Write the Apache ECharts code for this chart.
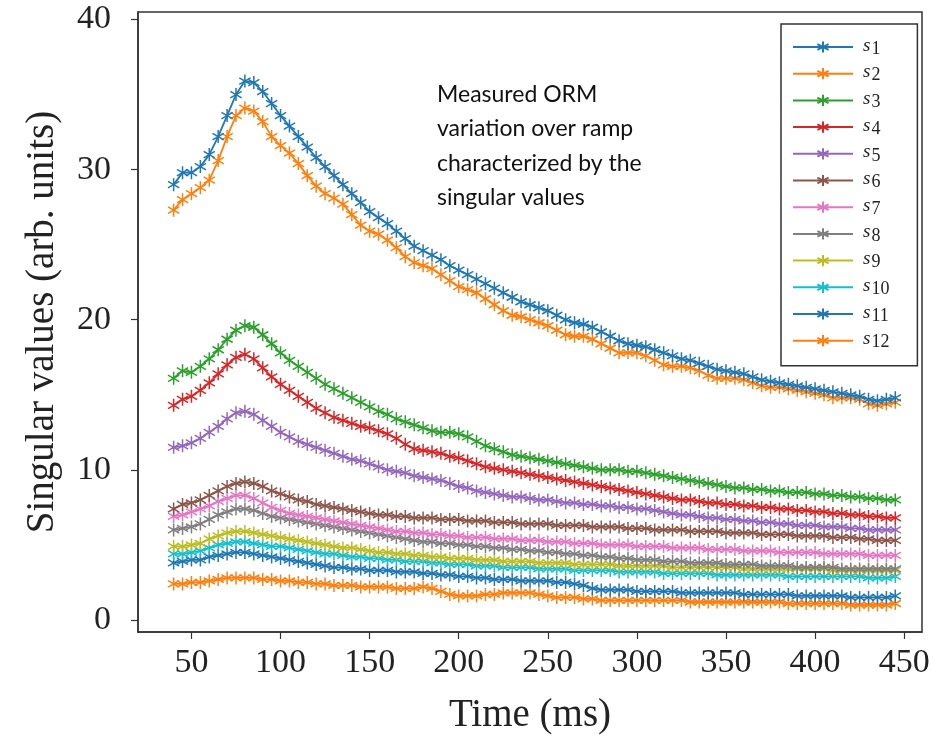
<!DOCTYPE html>
<html>
<head>
<meta charset="utf-8">
<script src="https://cdn.jsdelivr.net/npm/echarts@6/dist/echarts.min.js"></script>
<style>html,body{margin:0;padding:0;background:#fff;}#chart{width:933px;height:741px;}</style>
</head>
<body>
<div id="chart"></div>
<script>
// ---- data ----
const timeMs = [40,45,50,55,60,65,70,75,80,85,90,95,100,105,110,115,120,125,130,135,140,145,150,155,160,165,170,175,180,185,190,195,200,205,210,215,220,225,230,235,240,245,250,255,260,265,270,275,280,285,290,295,300,305,310,315,320,325,330,335,340,345,350,355,360,365,370,375,380,385,390,395,400,405,410,415,420,425,430,435,440,445];

const s1 = [29.0,29.8,29.8,30.2,31.0,32.2,33.6,35.0,35.9,35.8,35.2,34.4,33.6,32.9,32.2,31.5,30.8,30.2,29.6,29.0,28.4,27.8,27.2,26.8,26.4,25.9,25.4,24.9,24.6,24.3,24.0,23.6,23.3,23.0,22.7,22.4,22.1,21.8,21.5,21.2,21.0,20.8,20.6,20.3,20.0,19.8,19.7,19.5,19.2,18.9,18.6,18.4,18.3,18.2,18.0,17.8,17.6,17.4,17.3,17.1,16.9,16.7,16.6,16.5,16.4,16.2,16.0,15.9,15.8,15.7,15.6,15.5,15.4,15.3,15.2,15.1,15.0,14.9,14.7,14.6,14.7,14.8];
const s2 = [27.3,28.0,28.4,28.8,29.3,30.6,32.2,33.6,34.1,33.9,33.2,32.2,31.6,31.1,30.4,29.6,28.9,28.4,28.1,27.7,27.0,26.3,25.9,25.7,25.3,24.8,24.2,23.8,23.6,23.4,23.0,22.6,22.2,22.0,21.8,21.4,21.0,20.6,20.3,20.2,20.0,19.8,19.6,19.3,19.0,18.9,18.9,18.7,18.4,18.1,17.8,17.8,17.8,17.6,17.3,17.0,16.9,16.9,16.8,16.6,16.3,16.1,16.1,16.1,16.0,15.8,15.6,15.5,15.5,15.4,15.3,15.2,15.1,15.0,14.8,14.8,14.8,14.7,14.4,14.3,14.4,14.5];
const s3 = [16.1,16.6,16.5,16.9,17.4,18.0,18.7,19.3,19.6,19.5,19.0,18.4,17.8,17.3,16.9,16.5,16.1,15.7,15.4,15.1,14.8,14.5,14.2,13.9,13.7,13.4,13.2,13.0,12.8,12.6,12.5,12.5,12.4,12.2,11.9,11.6,11.4,11.2,11.0,10.9,10.8,10.7,10.6,10.5,10.4,10.3,10.2,10.1,10.0,10.0,10.0,9.9,9.9,9.8,9.7,9.6,9.5,9.4,9.3,9.2,9.1,9.0,8.9,8.8,8.8,8.7,8.7,8.6,8.6,8.5,8.5,8.5,8.4,8.4,8.3,8.3,8.2,8.2,8.1,8.1,8.0,8.0];
const s4 = [14.3,14.7,14.9,15.3,15.8,16.4,17.0,17.5,17.7,17.4,16.8,16.2,15.7,15.3,14.9,14.5,14.1,13.8,13.5,13.3,13.1,12.9,12.8,12.6,12.4,12.1,11.7,11.4,11.3,11.2,11.1,10.9,10.8,10.6,10.4,10.2,10.1,10.0,9.9,9.8,9.7,9.6,9.5,9.4,9.3,9.2,9.1,9.0,8.9,8.8,8.7,8.6,8.5,8.4,8.3,8.2,8.1,8.0,8.0,7.9,7.8,7.8,7.7,7.7,7.6,7.6,7.5,7.5,7.4,7.4,7.3,7.3,7.2,7.2,7.1,7.1,7.0,7.0,6.9,6.9,6.8,6.8];
const s5 = [11.5,11.6,11.8,12.1,12.5,12.9,13.4,13.8,13.9,13.7,13.3,12.9,12.5,12.2,11.9,11.7,11.5,11.3,11.1,10.9,10.7,10.6,10.4,10.2,10.0,9.9,9.8,9.6,9.5,9.4,9.3,9.1,8.9,8.8,8.6,8.5,8.4,8.3,8.2,8.2,8.1,8.0,8.0,7.9,7.8,7.8,7.7,7.7,7.6,7.6,7.5,7.5,7.4,7.4,7.3,7.2,7.1,7.0,7.0,6.9,6.8,6.8,6.7,6.7,6.6,6.6,6.5,6.5,6.4,6.4,6.3,6.3,6.3,6.2,6.2,6.2,6.1,6.1,6.0,6.0,6.0,6.0];
const s6 = [7.4,7.7,7.8,8.0,8.3,8.6,8.9,9.1,9.2,9.1,8.9,8.6,8.4,8.2,8.0,7.9,7.7,7.6,7.5,7.4,7.3,7.2,7.1,7.0,7.0,6.9,6.9,6.8,6.8,6.8,6.7,6.7,6.7,6.6,6.6,6.6,6.5,6.5,6.5,6.4,6.4,6.4,6.4,6.3,6.3,6.3,6.3,6.2,6.2,6.2,6.2,6.1,6.1,6.1,6.0,6.0,6.0,6.0,5.9,5.9,5.9,5.9,5.8,5.8,5.8,5.8,5.7,5.7,5.7,5.7,5.6,5.6,5.6,5.6,5.5,5.5,5.5,5.4,5.4,5.3,5.3,5.3];
const s7 = [6.9,7.0,7.2,7.4,7.6,7.9,8.1,8.3,8.3,8.1,7.8,7.5,7.3,7.1,7.0,6.9,6.8,6.7,6.6,6.5,6.4,6.3,6.2,6.1,6.0,5.9,5.9,5.8,5.8,5.7,5.7,5.6,5.6,5.5,5.5,5.5,5.4,5.4,5.4,5.3,5.3,5.3,5.2,5.2,5.2,5.1,5.1,5.1,5.0,5.0,5.0,5.0,4.9,4.9,4.9,4.9,4.8,4.8,4.8,4.8,4.7,4.7,4.7,4.7,4.6,4.6,4.6,4.6,4.5,4.5,4.5,4.5,4.5,4.4,4.4,4.4,4.4,4.4,4.3,4.3,4.3,4.3];
const s8 = [6.0,6.1,6.2,6.4,6.7,7.0,7.2,7.4,7.4,7.3,7.1,6.9,6.8,6.7,6.6,6.5,6.4,6.3,6.2,6.1,6.0,5.9,5.8,5.7,5.6,5.5,5.4,5.3,5.2,5.2,5.1,5.1,5.0,5.0,4.9,4.9,4.8,4.8,4.7,4.7,4.6,4.6,4.5,4.5,4.4,4.4,4.3,4.3,4.2,4.2,4.1,4.1,4.0,4.0,4.0,3.9,3.9,3.9,3.8,3.8,3.8,3.8,3.7,3.7,3.7,3.7,3.6,3.6,3.6,3.6,3.5,3.5,3.5,3.5,3.5,3.4,3.4,3.4,3.4,3.4,3.4,3.4];
const s9 = [4.9,4.9,5.0,5.1,5.4,5.6,5.8,5.9,5.9,5.8,5.7,5.6,5.5,5.4,5.3,5.2,5.1,5.0,4.9,4.8,4.8,4.7,4.6,4.5,4.5,4.4,4.4,4.3,4.3,4.2,4.2,4.1,4.1,4.1,4.0,4.0,4.0,3.9,3.9,3.9,3.9,3.8,3.8,3.8,3.8,3.7,3.7,3.7,3.7,3.7,3.6,3.6,3.6,3.6,3.6,3.6,3.5,3.5,3.5,3.5,3.5,3.5,3.5,3.5,3.4,3.4,3.4,3.4,3.4,3.4,3.4,3.4,3.4,3.4,3.3,3.3,3.3,3.3,3.3,3.3,3.3,3.3];
const s10 = [4.4,4.4,4.5,4.6,4.8,5.0,5.1,5.2,5.2,5.1,5.0,4.9,4.9,4.8,4.7,4.6,4.5,4.4,4.4,4.3,4.2,4.2,4.1,4.1,4.0,4.0,3.9,3.9,3.9,3.8,3.8,3.7,3.7,3.7,3.6,3.6,3.6,3.5,3.5,3.5,3.5,3.4,3.4,3.4,3.4,3.3,3.3,3.3,3.3,3.3,3.2,3.2,3.2,3.2,3.2,3.1,3.1,3.1,3.1,3.1,3.1,3.0,3.0,3.0,3.0,3.0,3.0,3.0,3.0,2.9,2.9,2.9,2.9,2.9,2.9,2.9,2.9,2.9,2.8,2.8,2.8,2.9];
const s11 = [3.8,3.9,4.0,4.0,4.2,4.3,4.4,4.5,4.5,4.4,4.3,4.2,4.1,4.0,3.9,3.8,3.7,3.6,3.5,3.5,3.4,3.4,3.3,3.3,3.3,3.2,3.2,3.2,3.1,3.1,3.0,3.0,2.9,2.9,2.8,2.8,2.7,2.7,2.7,2.6,2.6,2.6,2.6,2.5,2.5,2.4,2.3,2.1,2.0,2.0,2.0,2.0,1.9,1.9,1.9,1.9,1.9,1.8,1.8,1.8,1.8,1.8,1.8,1.8,1.7,1.7,1.7,1.7,1.7,1.7,1.6,1.6,1.6,1.6,1.6,1.6,1.5,1.5,1.5,1.5,1.5,1.6];
const s12 = [2.4,2.4,2.5,2.5,2.6,2.7,2.8,2.8,2.8,2.8,2.7,2.7,2.6,2.6,2.5,2.5,2.4,2.4,2.3,2.3,2.3,2.2,2.2,2.2,2.2,2.1,2.1,2.1,2.2,2.1,1.9,1.7,1.6,1.6,1.6,1.7,1.7,1.8,1.8,1.8,1.8,1.7,1.6,1.5,1.5,1.5,1.4,1.4,1.3,1.3,1.3,1.3,1.3,1.3,1.3,1.3,1.3,1.3,1.2,1.2,1.2,1.2,1.2,1.2,1.2,1.2,1.2,1.2,1.2,1.1,1.1,1.1,1.1,1.1,1.1,1.1,1.0,1.0,1.0,1.0,1.0,1.1];

const seriesNames = ['s1','s2','s3','s4','s5','s6','s7','s8','s9','s10','s11','s12'];
const seriesValues = [s1,s2,s3,s4,s5,s6,s7,s8,s9,s10,s11,s12];
const xTicks = [50,100,150,200,250,300,350,400,450];
const yTicks = [0,10,20,30,40];
const annotationLines = ['Measured ORM','variation over ramp','characterized by the','singular values'];

// ---- styling ----
const colors = ['#1f77b4','#ff7f0e','#2ca02c','#d62728','#9467bd','#8c564b','#e377c2','#7f7f7f','#bcbd22','#17becf','#1f77b4','#ff7f0e'];
const asterisk = 'path://M5,0L5,10M0.67,2.5L9.33,7.5M0.67,7.5L9.33,2.5';
const serif = 'Liberation Serif';

const chart = echarts.init(document.getElementById('chart'), null, {renderer: 'canvas'});

const series = seriesNames.map((name, k) => ({
  name: name,
  type: 'line',
  data: timeMs.map((t, i) => [t, seriesValues[k][i]]),
  symbol: asterisk,
  symbolSize: 13,
  symbolKeepAspect: true,
  showAllSymbol: true,
  lineStyle: {color: colors[k], width: 1.8},
  itemStyle: {color: colors[k], borderColor: colors[k], borderWidth: 1.5},
  emphasis: {disabled: true},
  z: 2 + (12 - k) * 0.01
}));

const option = {
  animation: false,
  backgroundColor: '#ffffff',
  grid: {left: 138, top: 12, right: 11, bottom: 109, show: true, borderColor: '#333', borderWidth: 1.5, backgroundColor: 'transparent'},
  xAxis: {
    type: 'value', min: 20, max: 460,
    name: 'Time (ms)', nameLocation: 'middle', nameGap: 64,
    nameTextStyle: {fontFamily: serif, fontSize: 39, color: '#222'},
    axisLine: {show: true, onZero: false, lineStyle: {color: '#333', width: 1.5}},
    axisTick: {show: true, length: 7, customValues: xTicks, lineStyle: {color: '#333', width: 1.2}},
    axisLabel: {customValues: xTicks, fontFamily: serif, fontSize: 34, color: '#222', margin: 14},
    splitLine: {show: false}
  },
  yAxis: {
    type: 'value', min: -0.8, max: 40.5,
    name: 'Singular values (arb. units)', nameLocation: 'middle', nameGap: 76,
    nameTextStyle: {fontFamily: serif, fontSize: 39, color: '#222'},
    axisLine: {show: true, onZero: false, lineStyle: {color: '#333', width: 1.5}},
    axisTick: {show: true, length: 7, customValues: yTicks, lineStyle: {color: '#333', width: 1.2}},
    axisLabel: {customValues: yTicks, fontFamily: serif, fontSize: 34, color: '#222', margin: 27},
    splitLine: {show: false}
  },
  legend: {
    data: seriesNames,
    orient: 'vertical',
    left: 781, top: 24,
    itemWidth: 60, itemHeight: 14, itemGap: 4.7,
    padding: [12, 28, 14, 11],
    borderColor: '#333', borderWidth: 1.5,
    backgroundColor: '#fff',
    selectedMode: false,
    formatter: function (name) { return '{s|s}{n|' + name.slice(1) + '}'; },
    textStyle: {
      color: '#222', fontFamily: serif, padding: [0, 0, 0, 5],
      rich: {
        s: {fontFamily: serif, fontStyle: 'italic', fontSize: 19, color: '#222', padding: [0, 1, 3, 0]},
        n: {fontFamily: serif, fontSize: 18, color: '#222', padding: [4, 0, 0, 0]}
      }
    }
  },
  graphic: [{
    type: 'text', left: 437, top: 77, z: 10,
    style: {text: annotationLines.join('\n'), font: '23px Lato, "Open Sans", sans-serif', fill: '#111', lineHeight: 34.5}
  }],
  series: series
};
chart.setOption(option);
</script>
</body>
</html>
